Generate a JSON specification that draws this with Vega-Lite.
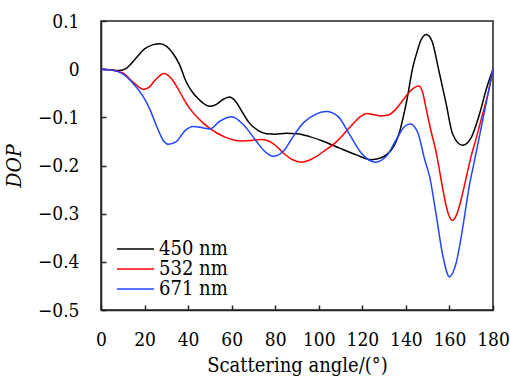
{
  "$schema": "https://vega.github.io/schema/vega-lite/v6.json",
  "width": 392,
  "height": 289,
  "autosize": {"type": "none"},
  "padding": {"left": 101, "top": 21, "right": 17, "bottom": 67},
  "background": "white",
  "config": {
    "view": {"stroke": "#222", "strokeWidth": 1.5},
    "axis": {
      "domainColor": "#222",
      "domainWidth": 1.5,
      "tickColor": "#222",
      "tickWidth": 1.5,
      "tickSize": -5,
      "grid": false,
      "labelFont": "DejaVu Serif Condensed",
      "labelFontSize": 19,
      "labelColor": "#000",
      "titleFont": "DejaVu Serif Condensed",
      "titleFontSize": 20,
      "titleFontWeight": "normal",
      "titleColor": "#000"
    },
    "legend": {
      "labelFont": "DejaVu Serif Condensed",
      "labelFontSize": 20,
      "labelColor": "#000"
    }
  },
  "data": {
    "values": [
      {"x": 0, "y": 0, "s": "450 nm"},
      {"x": 4, "y": -0.001, "s": "450 nm"},
      {"x": 8, "y": -0.003, "s": "450 nm"},
      {"x": 11, "y": 0.0, "s": "450 nm"},
      {"x": 14, "y": 0.012, "s": "450 nm"},
      {"x": 17, "y": 0.028, "s": "450 nm"},
      {"x": 20, "y": 0.042, "s": "450 nm"},
      {"x": 24, "y": 0.051, "s": "450 nm"},
      {"x": 27, "y": 0.053, "s": "450 nm"},
      {"x": 30, "y": 0.048, "s": "450 nm"},
      {"x": 33, "y": 0.033, "s": "450 nm"},
      {"x": 36, "y": 0.01, "s": "450 nm"},
      {"x": 39, "y": -0.025, "s": "450 nm"},
      {"x": 42, "y": -0.048, "s": "450 nm"},
      {"x": 45, "y": -0.063, "s": "450 nm"},
      {"x": 48, "y": -0.074, "s": "450 nm"},
      {"x": 50.5, "y": -0.077, "s": "450 nm"},
      {"x": 53, "y": -0.073, "s": "450 nm"},
      {"x": 56, "y": -0.063, "s": "450 nm"},
      {"x": 59, "y": -0.058, "s": "450 nm"},
      {"x": 62, "y": -0.068, "s": "450 nm"},
      {"x": 65, "y": -0.09, "s": "450 nm"},
      {"x": 68, "y": -0.111, "s": "450 nm"},
      {"x": 72, "y": -0.127, "s": "450 nm"},
      {"x": 76, "y": -0.134, "s": "450 nm"},
      {"x": 80, "y": -0.135, "s": "450 nm"},
      {"x": 85, "y": -0.133, "s": "450 nm"},
      {"x": 90, "y": -0.134, "s": "450 nm"},
      {"x": 95.8, "y": -0.14, "s": "450 nm"},
      {"x": 101.8, "y": -0.149, "s": "450 nm"},
      {"x": 109.6, "y": -0.164, "s": "450 nm"},
      {"x": 117.3, "y": -0.178, "s": "450 nm"},
      {"x": 124, "y": -0.188, "s": "450 nm"},
      {"x": 128, "y": -0.185, "s": "450 nm"},
      {"x": 131, "y": -0.178, "s": "450 nm"},
      {"x": 134.5, "y": -0.16, "s": "450 nm"},
      {"x": 137, "y": -0.132, "s": "450 nm"},
      {"x": 139, "y": -0.095, "s": "450 nm"},
      {"x": 140.5, "y": -0.063, "s": "450 nm"},
      {"x": 143, "y": 0.0, "s": "450 nm"},
      {"x": 145, "y": 0.034, "s": "450 nm"},
      {"x": 147, "y": 0.061, "s": "450 nm"},
      {"x": 149.4, "y": 0.072, "s": "450 nm"},
      {"x": 152, "y": 0.058, "s": "450 nm"},
      {"x": 155, "y": 0.0, "s": "450 nm"},
      {"x": 158.5, "y": -0.072, "s": "450 nm"},
      {"x": 161.5, "y": -0.135, "s": "450 nm"},
      {"x": 166, "y": -0.158, "s": "450 nm"},
      {"x": 170, "y": -0.142, "s": "450 nm"},
      {"x": 174, "y": -0.09, "s": "450 nm"},
      {"x": 177, "y": -0.04, "s": "450 nm"},
      {"x": 180, "y": 0, "s": "450 nm"},

      {"x": 0, "y": 0, "s": "532 nm"},
      {"x": 5, "y": -0.002, "s": "532 nm"},
      {"x": 10, "y": -0.008, "s": "532 nm"},
      {"x": 15, "y": -0.028, "s": "532 nm"},
      {"x": 19.5, "y": -0.042, "s": "532 nm"},
      {"x": 22, "y": -0.038, "s": "532 nm"},
      {"x": 25, "y": -0.022, "s": "532 nm"},
      {"x": 29, "y": -0.009, "s": "532 nm"},
      {"x": 32, "y": -0.018, "s": "532 nm"},
      {"x": 35, "y": -0.038, "s": "532 nm"},
      {"x": 38, "y": -0.062, "s": "532 nm"},
      {"x": 41, "y": -0.083, "s": "532 nm"},
      {"x": 44, "y": -0.099, "s": "532 nm"},
      {"x": 47, "y": -0.112, "s": "532 nm"},
      {"x": 50, "y": -0.123, "s": "532 nm"},
      {"x": 53, "y": -0.132, "s": "532 nm"},
      {"x": 57, "y": -0.141, "s": "532 nm"},
      {"x": 61, "y": -0.147, "s": "532 nm"},
      {"x": 65, "y": -0.149, "s": "532 nm"},
      {"x": 69, "y": -0.148, "s": "532 nm"},
      {"x": 73, "y": -0.146, "s": "532 nm"},
      {"x": 77, "y": -0.149, "s": "532 nm"},
      {"x": 80, "y": -0.158, "s": "532 nm"},
      {"x": 84, "y": -0.175, "s": "532 nm"},
      {"x": 88, "y": -0.188, "s": "532 nm"},
      {"x": 92, "y": -0.193, "s": "532 nm"},
      {"x": 95, "y": -0.19, "s": "532 nm"},
      {"x": 99, "y": -0.181, "s": "532 nm"},
      {"x": 103, "y": -0.168, "s": "532 nm"},
      {"x": 107, "y": -0.155, "s": "532 nm"},
      {"x": 111, "y": -0.137, "s": "532 nm"},
      {"x": 115, "y": -0.117, "s": "532 nm"},
      {"x": 119, "y": -0.099, "s": "532 nm"},
      {"x": 122, "y": -0.092, "s": "532 nm"},
      {"x": 125, "y": -0.094, "s": "532 nm"},
      {"x": 128, "y": -0.097, "s": "532 nm"},
      {"x": 132, "y": -0.095, "s": "532 nm"},
      {"x": 135, "y": -0.085, "s": "532 nm"},
      {"x": 138, "y": -0.068, "s": "532 nm"},
      {"x": 141.5, "y": -0.048, "s": "532 nm"},
      {"x": 144, "y": -0.038, "s": "532 nm"},
      {"x": 146, "y": -0.035, "s": "532 nm"},
      {"x": 147.8, "y": -0.05, "s": "532 nm"},
      {"x": 149.4, "y": -0.084, "s": "532 nm"},
      {"x": 151, "y": -0.118, "s": "532 nm"},
      {"x": 154, "y": -0.175, "s": "532 nm"},
      {"x": 157, "y": -0.25, "s": "532 nm"},
      {"x": 158.5, "y": -0.284, "s": "532 nm"},
      {"x": 161.3, "y": -0.314, "s": "532 nm"},
      {"x": 163.3, "y": -0.302, "s": "532 nm"},
      {"x": 165.4, "y": -0.27, "s": "532 nm"},
      {"x": 167.7, "y": -0.225, "s": "532 nm"},
      {"x": 170, "y": -0.18, "s": "532 nm"},
      {"x": 172.5, "y": -0.14, "s": "532 nm"},
      {"x": 175, "y": -0.097, "s": "532 nm"},
      {"x": 178, "y": -0.045, "s": "532 nm"},
      {"x": 180, "y": 0, "s": "532 nm"},

      {"x": 0, "y": 0, "s": "671 nm"},
      {"x": 5, "y": -0.002, "s": "671 nm"},
      {"x": 10, "y": -0.01, "s": "671 nm"},
      {"x": 14.8, "y": -0.03, "s": "671 nm"},
      {"x": 19.4, "y": -0.057, "s": "671 nm"},
      {"x": 22.4, "y": -0.083, "s": "671 nm"},
      {"x": 25.5, "y": -0.118, "s": "671 nm"},
      {"x": 28.6, "y": -0.148, "s": "671 nm"},
      {"x": 31, "y": -0.156, "s": "671 nm"},
      {"x": 34.7, "y": -0.15, "s": "671 nm"},
      {"x": 38.5, "y": -0.128, "s": "671 nm"},
      {"x": 42.3, "y": -0.119, "s": "671 nm"},
      {"x": 46.9, "y": -0.122, "s": "671 nm"},
      {"x": 50, "y": -0.124, "s": "671 nm"},
      {"x": 54.6, "y": -0.108, "s": "671 nm"},
      {"x": 60, "y": -0.099, "s": "671 nm"},
      {"x": 65.3, "y": -0.115, "s": "671 nm"},
      {"x": 71.4, "y": -0.15, "s": "671 nm"},
      {"x": 75, "y": -0.17, "s": "671 nm"},
      {"x": 79, "y": -0.181, "s": "671 nm"},
      {"x": 83.6, "y": -0.171, "s": "671 nm"},
      {"x": 88.2, "y": -0.14, "s": "671 nm"},
      {"x": 92.8, "y": -0.112, "s": "671 nm"},
      {"x": 98.1, "y": -0.095, "s": "671 nm"},
      {"x": 103.5, "y": -0.088, "s": "671 nm"},
      {"x": 108.8, "y": -0.098, "s": "671 nm"},
      {"x": 114.2, "y": -0.136, "s": "671 nm"},
      {"x": 119.5, "y": -0.174, "s": "671 nm"},
      {"x": 126, "y": -0.193, "s": "671 nm"},
      {"x": 131, "y": -0.181, "s": "671 nm"},
      {"x": 135.6, "y": -0.146, "s": "671 nm"},
      {"x": 139.4, "y": -0.119, "s": "671 nm"},
      {"x": 142, "y": -0.114, "s": "671 nm"},
      {"x": 145.5, "y": -0.132, "s": "671 nm"},
      {"x": 148.6, "y": -0.187, "s": "671 nm"},
      {"x": 151, "y": -0.225, "s": "671 nm"},
      {"x": 154, "y": -0.305, "s": "671 nm"},
      {"x": 157, "y": -0.388, "s": "671 nm"},
      {"x": 160, "y": -0.431, "s": "671 nm"},
      {"x": 163.1, "y": -0.402, "s": "671 nm"},
      {"x": 166.2, "y": -0.326, "s": "671 nm"},
      {"x": 169.2, "y": -0.24, "s": "671 nm"},
      {"x": 171.5, "y": -0.19, "s": "671 nm"},
      {"x": 175.3, "y": -0.105, "s": "671 nm"},
      {"x": 178, "y": -0.045, "s": "671 nm"},
      {"x": 180, "y": 0, "s": "671 nm"}
    ]
  },
  "mark": {"type": "line", "interpolate": "monotone", "strokeWidth": 1.5},
  "encoding": {
    "x": {
      "field": "x",
      "type": "quantitative",
      "scale": {"domain": [0, 180], "nice": false, "zero": false},
      "axis": {
        "values": [0, 20, 40, 60, 80, 100, 120, 140, 160, 180],
        "title": "Scattering angle/(°)",
        "labelPadding": 25,
        "titlePadding": 6,
        "labelFlush": false
      }
    },
    "y": {
      "field": "y",
      "type": "quantitative",
      "scale": {"domain": [-0.5, 0.1], "nice": false, "zero": false},
      "axis": {
        "values": [-0.5, -0.4, -0.3, -0.2, -0.1, 0, 0.1],
        "format": ".1~f",
        "title": "DOP",
        "titleFontStyle": "italic",
        "titleFontSize": 21,
        "labelPadding": 27,
        "titlePadding": 13,
        "labelFlush": false
      }
    },
    "color": {
      "field": "s",
      "type": "nominal",
      "scale": {"domain": ["450 nm", "532 nm", "671 nm"], "range": ["#000000", "#ff0000", "#1f45ff"]},
      "legend": {
        "title": null,
        "orient": "none",
        "legendX": 24.5,
        "legendY": 218,
        "padding": 0,
        "symbolType": "M-3.7,0H3.7",
        "symbolSize": 100,
        "symbolStrokeWidth": 1.5,
        "labelOffset": 13.5,
        "rowPadding": -3
      }
    }
  }
}
